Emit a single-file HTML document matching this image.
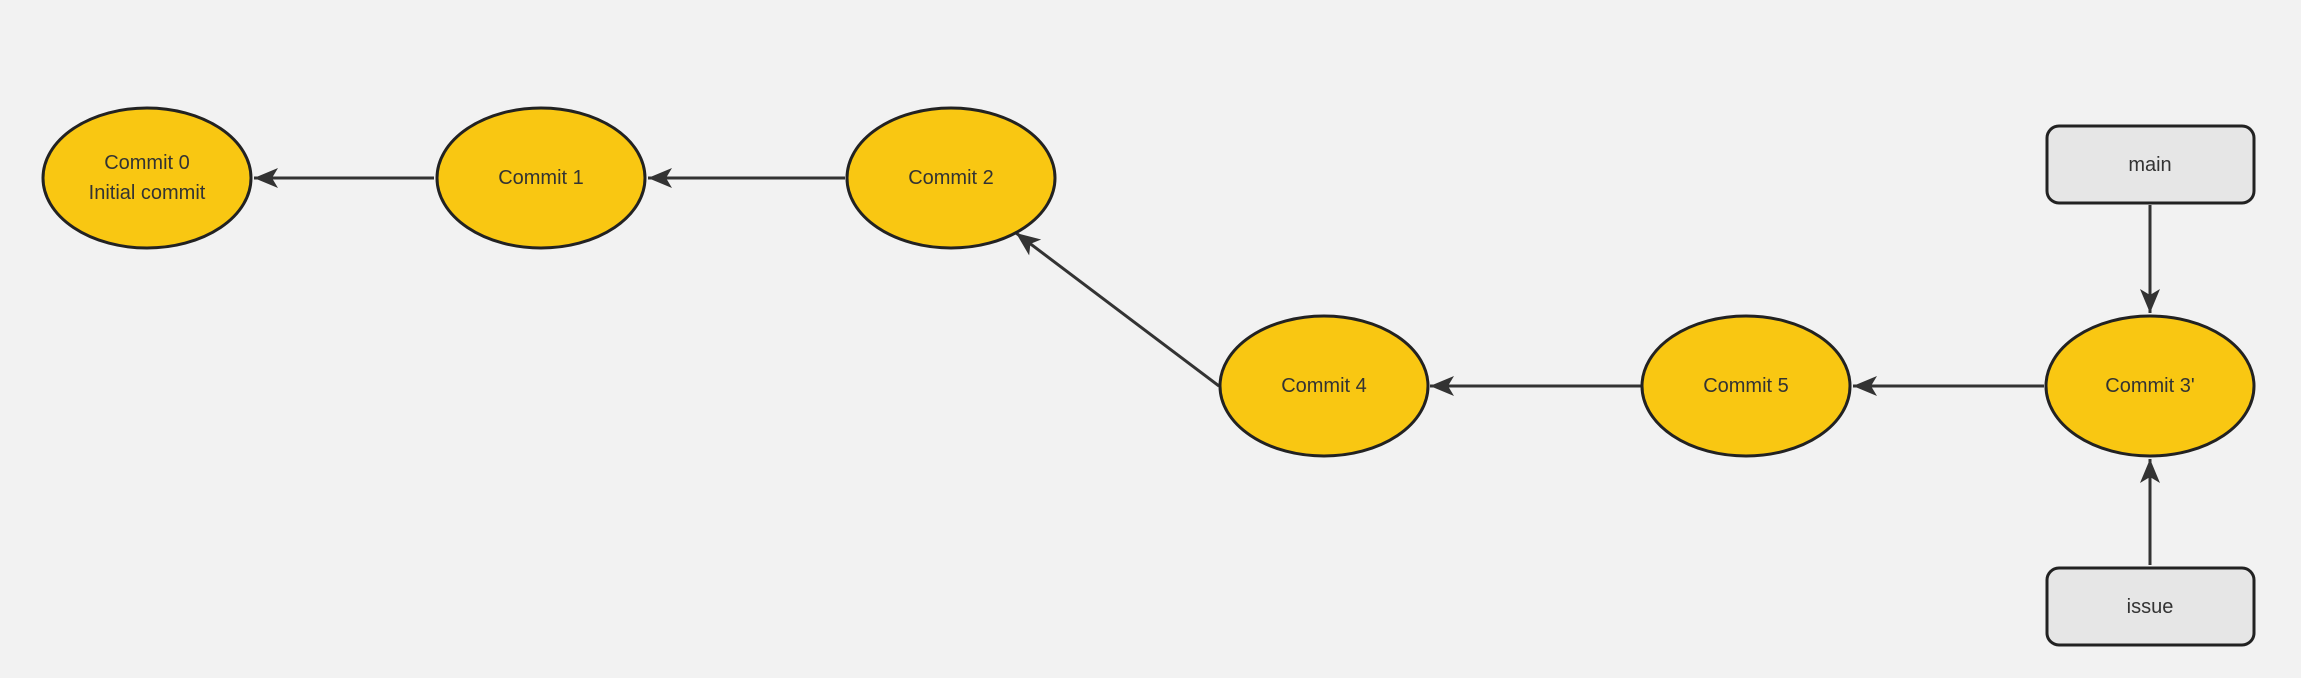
<!DOCTYPE html>
<html><head><meta charset="utf-8"><style>
html,body{margin:0;padding:0;background:#f2f2f2;}
svg{display:block;}
text{font-family:"Liberation Sans",sans-serif;font-size:20px;fill:#333;text-anchor:middle;dominant-baseline:central;}
</style></head><body>
<svg width="2301" height="678" viewBox="0 0 2301 678" xmlns="http://www.w3.org/2000/svg">
<defs>
<marker id="a" markerWidth="26" markerHeight="22" refX="24" refY="11" orient="auto" markerUnits="userSpaceOnUse">
<path d="M0,1 L24,11 L0,21 L6,11 Z" fill="#333"/>
</marker>
</defs>
<rect width="2301" height="678" fill="#f2f2f2"/>
<g stroke="#333" stroke-width="3" fill="none" marker-end="url(#a)">
<line x1="434" y1="178" x2="254" y2="178"/>
<line x1="845" y1="178" x2="648" y2="178"/>
<line x1="1219" y1="386" x2="1016" y2="233"/>
<line x1="1641" y1="386" x2="1430" y2="386"/>
<line x1="2044" y1="386" x2="1853" y2="386"/>
<line x1="2150" y1="205" x2="2150" y2="313"/>
<line x1="2150" y1="565" x2="2150" y2="459"/>
</g>
<g fill="#f9c712" stroke="#222" stroke-width="3">
<ellipse cx="147" cy="178" rx="104" ry="70"/>
<ellipse cx="541" cy="178" rx="104" ry="70"/>
<ellipse cx="951" cy="178" rx="104" ry="70"/>
<ellipse cx="1324" cy="386" rx="104" ry="70"/>
<ellipse cx="1746" cy="386" rx="104" ry="70"/>
<ellipse cx="2150" cy="386" rx="104" ry="70"/>
</g>
<g fill="#e6e6e6" stroke="#222" stroke-width="3">
<rect x="2047" y="126" width="207" height="77" rx="12"/>
<rect x="2047" y="568" width="207" height="77" rx="12"/>
</g>
<text x="147" y="163">Commit 0</text>
<text x="147" y="193">Initial commit</text>
<text x="541" y="178">Commit 1</text>
<text x="951" y="178">Commit 2</text>
<text x="1324" y="386">Commit 4</text>
<text x="1746" y="386">Commit 5</text>
<text x="2150" y="386">Commit 3'</text>
<text x="2150" y="165">main</text>
<text x="2150" y="607">issue</text>
</svg>
</body></html>
